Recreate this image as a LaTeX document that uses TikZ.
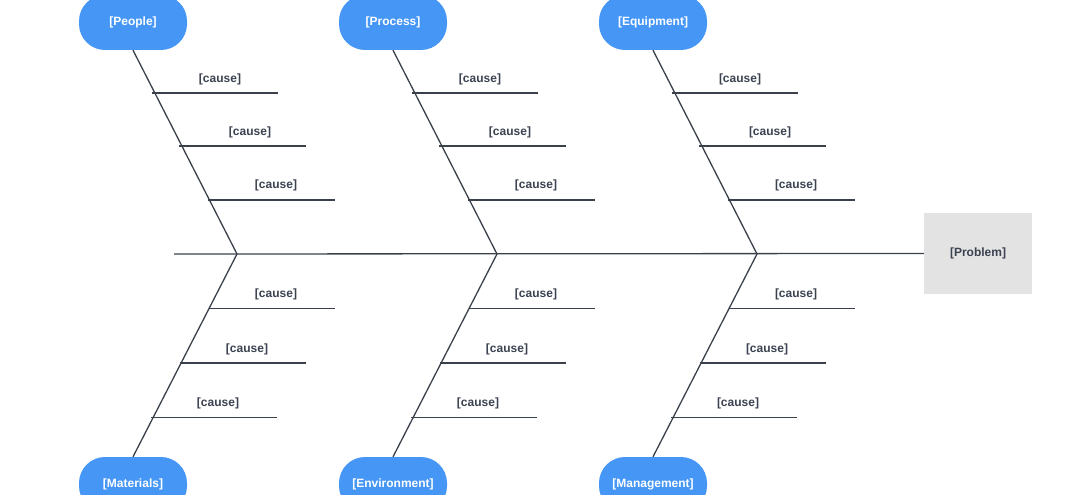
\documentclass[tikz,border=0pt]{standalone}
\usepackage{fontspec}
\setmainfont{Liberation Sans}
\definecolor{catblue}{HTML}{4596F5}
\definecolor{bone}{HTML}{3A414B}
\definecolor{probgray}{HTML}{E3E3E3}
\definecolor{txtgray}{HTML}{3B4250}
\begin{document}
\begin{tikzpicture}[x=1pt,y=-1pt,
  catbox/.style={draw=none,fill=catblue,rounded corners=26pt,minimum width=108pt,minimum height=55pt,
    text=white,font=\bfseries\fontsize{12}{14}\selectfont,inner sep=0pt},
  probbox/.style={draw=none,fill=probgray,minimum width=108pt,minimum height=81pt,
    text=txtgray,font=\bfseries\fontsize{12}{14}\selectfont,inner sep=0pt},
  boneline/.style={draw=bone,line width=1.3pt},
  causeline/.style={draw=bone,line width=1.3pt},
  causetxt/.style={text=txtgray,font=\bfseries\fontsize{12}{14}\selectfont,inner sep=0pt}]
\useasboundingbox (0,0) rectangle (1076,495);
% problem
\node[probbox] (prob) at (978,253.5) {[Problem]};
% category boxes
\node[catbox] (people) at (133,22.5) {[People]};
\node[catbox] (process) at (393,22.5) {[Process]};
\node[catbox] (equip) at (653,22.5) {[Equipment]};
\node[catbox] (mater) at (133,484.5) {[Materials]};
\node[catbox] (envir) at (393,484.5) {[Environment]};
\node[catbox] (manag) at (653,484.5) {[Management]};
% joints on spine
\coordinate (j1) at (237,254);
\coordinate (j2) at (497,254);
\coordinate (j3) at (757,254);
\coordinate (spinestart) at (174,254);
% spine
\draw[boneline] (spinestart) -- (prob.west);
% bones
\draw[boneline] (people.south) -- (j1) -- (mater.north);
\draw[boneline] (process.south) -- (j2) -- (envir.north);
\draw[boneline] (equip.south) -- (j3) -- (manag.north);
% causes
\foreach \dx in {0,260,520}{
  \foreach \xa/\xb/\yy/\lx/\ly in {152/278/93/220/79, 179/306/146/250/132, 208/335/200/276/185,
                                   209/335/308.5/276/294.5, 180/306/363/247/349, 151/277/417.5/218/403.5}{
    \coordinate (ca) at (\xa+\dx,\yy);
    \coordinate (cb) at (\xb+\dx,\yy);
    \draw[causeline] (ca) -- (cb);
    \node[causetxt] at (\lx+\dx,\ly) {[cause]};
  }
}
\end{tikzpicture}
\end{document}
